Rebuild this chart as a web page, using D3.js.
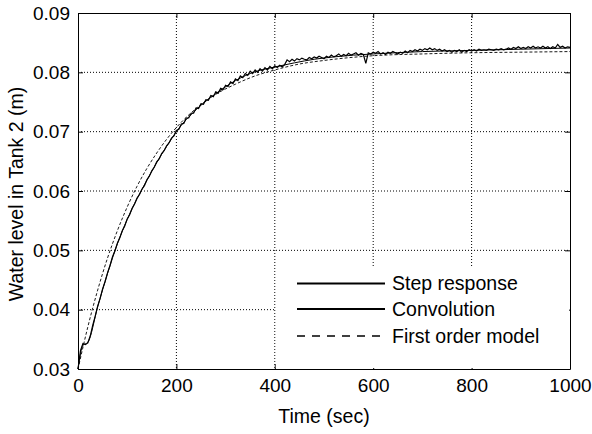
<!DOCTYPE html>
<html>
<head>
 <meta charset="UTF-8">
 <title>Tank 2 water level</title>
 <script src="https://d3js.org/d3.v7.min.js"></script>
 <style>
  body { margin: 0; background: #fff; }
  text { font-family: "Liberation Sans", Arial, sans-serif; fill: #000; }
 </style>
</head>
<body>
<script type="text/javascript">
// sample step of the measured step response (sec)
var stepDt = 5;
var stepValues = [
 0.0300,0.0331,0.0343,0.0341,0.0344,0.0356,0.0374,0.0389,0.0406,0.0419,
 0.0435,0.0447,0.0462,0.0474,0.0489,0.0499,0.0512,0.0521,0.0533,0.0541,
 0.0553,0.0560,0.0571,0.0578,0.0588,0.0594,0.0603,0.0609,0.0619,0.0625,
 0.0634,0.0640,0.0649,0.0654,0.0663,0.0668,0.0676,0.0681,0.0689,0.0693,
 0.0702,0.0704,0.0713,0.0714,0.0723,0.0723,0.0731,0.0731,0.0740,0.0739,
 0.0747,0.0746,0.0754,0.0753,0.0761,0.0759,0.0767,0.0765,0.0773,0.0771,
 0.0778,0.0776,0.0784,0.0781,0.0789,0.0786,0.0794,0.0791,0.0798,0.0795,
 0.0802,0.0798,0.0804,0.0800,0.0806,0.0802,0.0808,0.0804,0.0810,0.0806,
 0.0811,0.0808,0.0812,0.0809,0.0813,0.0821,0.0818,0.0822,0.0819,0.0823,
 0.0821,0.0824,0.0822,0.0821,0.0825,0.0823,0.0826,0.0824,0.0827,0.0825,
 0.0823,0.0827,0.0825,0.0829,0.0826,0.0828,0.0831,0.0827,0.0830,0.0828,
 0.0832,0.0829,0.0831,0.0833,0.0829,0.0832,0.0830,0.0815,0.0833,0.0831,
 0.0834,0.0832,0.0835,0.0831,0.0833,0.0830,0.0834,0.0832,0.0835,0.0833,
 0.0831,0.0834,0.0832,0.0836,0.0833,0.0837,0.0835,0.0838,0.0836,0.0839,
 0.0837,0.0840,0.0838,0.0841,0.0838,0.0840,0.0837,0.0839,0.0836,0.0838,
 0.0835,0.0837,0.0834,0.0837,0.0835,0.0838,0.0834,0.0837,0.0835,0.0838,
 0.0836,0.0838,0.0836,0.0839,0.0837,0.0838,0.0837,0.0839,0.0838,0.0837,
 0.0839,0.0838,0.0840,0.0838,0.0839,0.0841,0.0839,0.0842,0.0840,0.0843,
 0.0840,0.0842,0.0840,0.0843,0.0841,0.0844,0.0841,0.0843,0.0841,0.0844,
 0.0841,0.0843,0.0840,0.0843,0.0841,0.0847,0.0842,0.0844,0.0841,0.0843,
 0.0842
];

var convTime   = [0, 10, 20, 40, 60, 80, 100, 120, 140, 160, 180, 200, 240, 280, 320, 360, 400, 440, 480, 520, 560, 600, 700, 800, 900, 1000];
var convValues = [0.0300,0.0340,0.0345,0.0405,0.0461,0.0511,0.0552,0.0587,0.0618,0.0648,0.0675,0.0700,0.0737,0.0764,0.0786,0.0801,0.0809,0.0816,0.0822,0.0826,0.0829,0.0831,0.0835,0.0837,0.0839,0.0841];

var modelTime   = [0, 20, 40, 60, 80, 100, 120, 140, 160, 180, 200, 240, 280, 320, 360, 400, 450, 500, 600, 700, 800, 900, 1000];
var modelValues = [0.0300,0.0371,0.0433,0.0487,0.0533,0.0573,0.0608,0.0638,0.0664,0.0687,0.0707,0.0739,0.0763,0.0780,0.0794,0.0804,0.0814,0.0820,0.0828,0.0831,0.0833,0.0834,0.0835];

var xTicks = [0, 200, 400, 600, 800, 1000];
var yTicks = [0.03, 0.04, 0.05, 0.06, 0.07, 0.08, 0.09];
var legendNames = ["Step response", "Convolution", "First order model"];

var width = 592, height = 434;
var margin = {top: 13, right: 22, bottom: 65, left: 78};
var w = width - margin.left - margin.right;
var h = height - margin.top - margin.bottom;

var svg = d3.select('body').append('svg')
      .attr('width', width)
      .attr('height', height);

var g = svg.append('g')
      .attr('transform', 'translate(' + margin.left + ',' + margin.top + ')');

var x = d3.scaleLinear().domain([0, 1000]).range([0, w]);
var y = d3.scaleLinear().domain([0.03, 0.09]).range([h, 0]);

// grid
g.selectAll('.vgrid').data(xTicks.slice(1, -1)).enter().append('line')
  .attr('x1', function (d) { return x(d); }).attr('x2', function (d) { return x(d); })
  .attr('y1', 0).attr('y2', h)
  .attr('stroke', '#000').attr('stroke-width', 1).attr('stroke-dasharray', '1,2');
g.selectAll('.hgrid').data(yTicks.slice(1, -1)).enter().append('line')
  .attr('y1', function (d) { return y(d); }).attr('y2', function (d) { return y(d); })
  .attr('x1', 0).attr('x2', w)
  .attr('stroke', '#000').attr('stroke-width', 1).attr('stroke-dasharray', '1,2');

// axes
var fmt = d3.format('.2f');
var xAxis = g.append('g').attr('transform', 'translate(0,' + h + ')')
  .call(d3.axisBottom(x).tickValues(xTicks).tickFormat(d3.format('d')).tickSizeInner(-5).tickSizeOuter(0).tickPadding(10));
var yAxis = g.append('g')
  .call(d3.axisLeft(y).tickValues(yTicks).tickFormat(fmt).tickSizeInner(-5).tickSizeOuter(0).tickPadding(8));
g.append('g').call(d3.axisTop(x).tickValues(xTicks).tickSizeInner(-5).tickSizeOuter(0).tickFormat(''));
g.append('g').attr('transform', 'translate(' + w + ',0)')
  .call(d3.axisRight(y).tickValues(yTicks).tickSizeInner(-5).tickSizeOuter(0).tickFormat(''));
g.selectAll('.domain').attr('stroke', '#000');
g.selectAll('.tick line').attr('stroke', '#000');
g.selectAll('.tick text').style('font-size', '19px').style('font-family', '"Liberation Sans", Arial, sans-serif').attr('fill', '#000');
xAxis.selectAll('.tick text').attr('dy', '0.71em');

// legend background (hides grid under it)
var legX = x(402), legY = y(0.0473);
g.append('rect').attr('x', legX).attr('y', legY)
  .attr('width', w - legX - 1).attr('height', h - legY - 1)
  .attr('fill', '#fff');

// lines
var line = d3.line().x(function (d) { return x(d[0]); }).y(function (d) { return y(d[1]); });
var stepData = stepValues.map(function (v, i) { return [i * stepDt, v]; });
var convData = convValues.map(function (v, i) { return [convTime[i], v]; });
var modelData = modelValues.map(function (v, i) { return [modelTime[i], v]; });

g.append('path').datum(modelData).attr('d', line.curve(d3.curveMonotoneX))
  .attr('fill', 'none').attr('stroke', '#000').attr('stroke-width', 0.9).attr('stroke-dasharray', '3,2');
g.append('path').datum(convData).attr('d', line.curve(d3.curveMonotoneX))
  .attr('fill', 'none').attr('stroke', '#000').attr('stroke-width', 1);
g.append('path').datum(stepData).attr('d', line.curve(d3.curveLinear))
  .attr('fill', 'none').attr('stroke', '#000').attr('stroke-width', 1.2);

// legend
var legRows = [283.5, 309, 336];
var leg = svg.selectAll('.leg').data(legendNames).enter().append('g')
  .attr('transform', function (d, i) { return 'translate(0,' + legRows[i] + ')'; });
leg.append('line').attr('x1', 297).attr('x2', 385).attr('y1', 0).attr('y2', 0)
  .attr('stroke', '#000')
  .attr('stroke-width', function (d, i) { return i < 2 ? 2 : 1.6; })
  .attr('stroke-dasharray', function (d, i) { return i == 2 ? '8,7' : null; });
leg.append('text').attr('x', 392).attr('y', 0).attr('dy', '0.35em')
  .style('font-size', '19.5px').text(function (d) { return d; });

// axis titles
svg.append('text').attr('x', margin.left + w / 2).attr('y', 423)
  .attr('text-anchor', 'middle').style('font-size', '19.5px').text('Time (sec)');
svg.append('text').attr('transform', 'translate(23,' + (margin.top + h / 2 + 3) + ') rotate(-90)')
  .attr('text-anchor', 'middle').style('font-size', '19.5px').text('Water level in Tank 2 (m)');
</script>
</body>
</html>
